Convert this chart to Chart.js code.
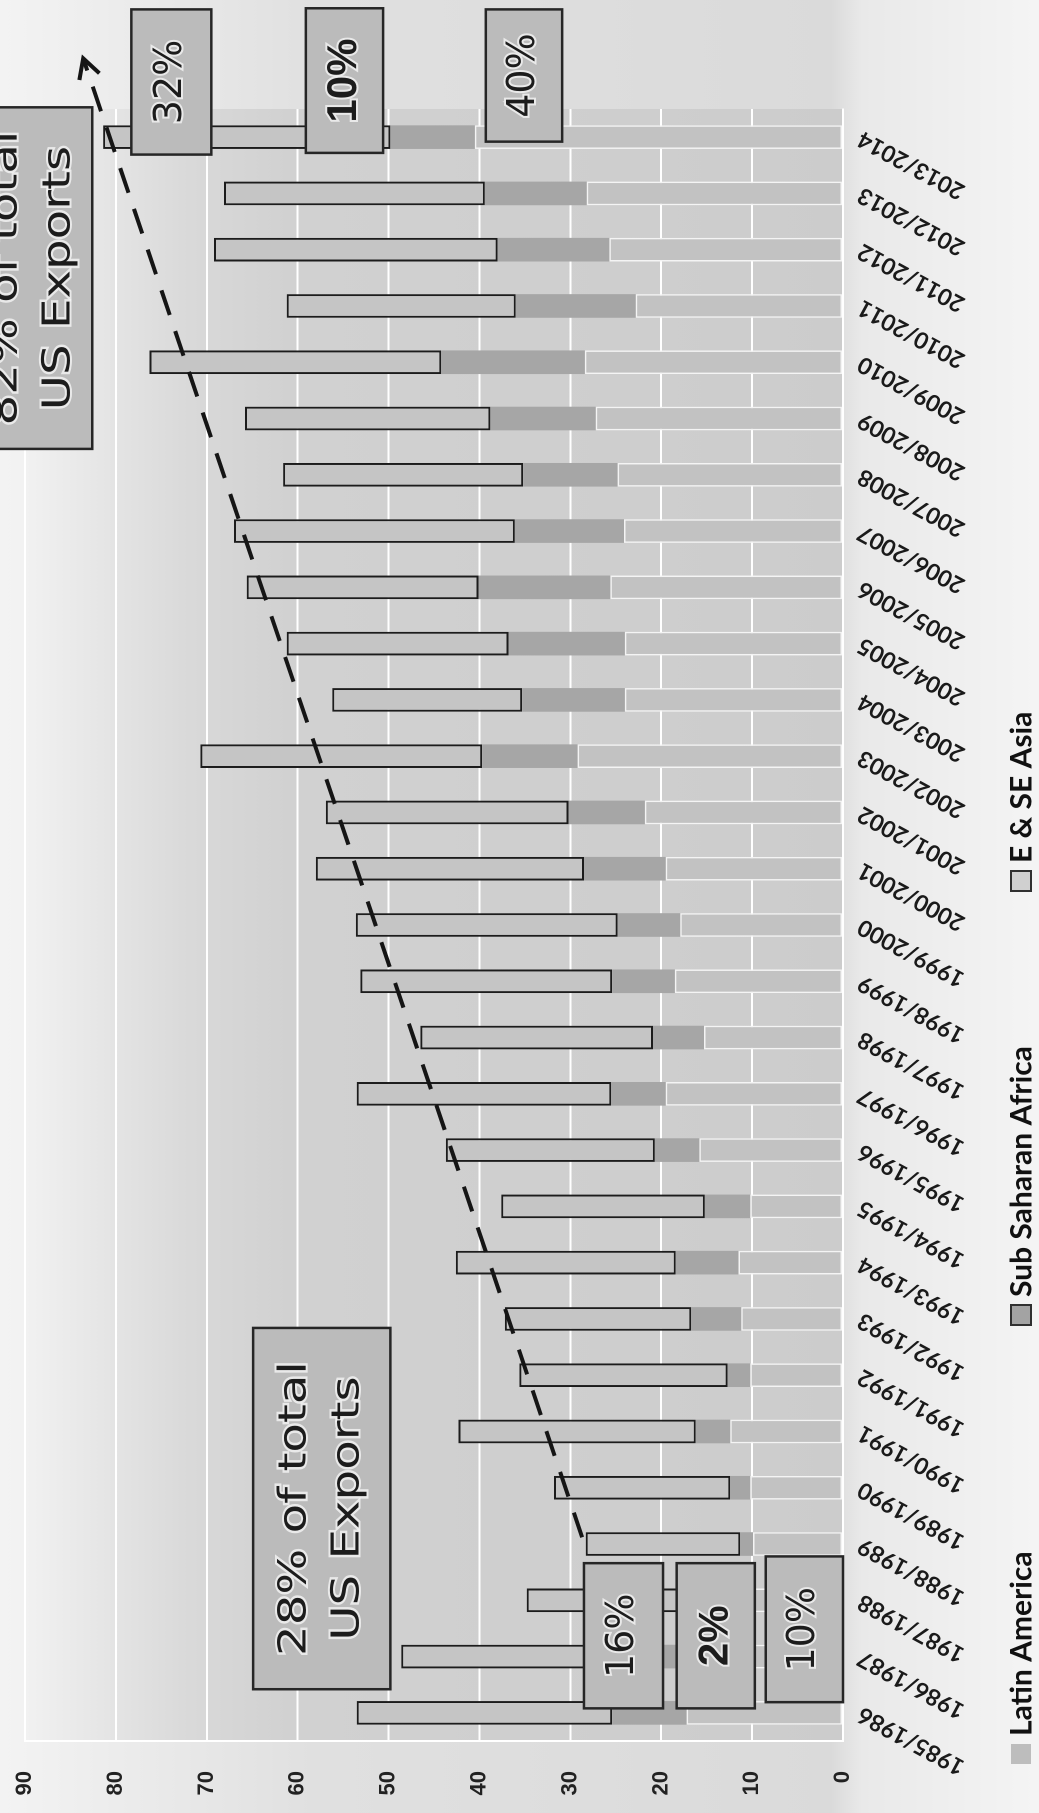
<!DOCTYPE html>
<html>
<head>
<meta charset="utf-8">
<title>Wheat exports by region</title>
<script src="https://cdn.jsdelivr.net/npm/chart.js@4.4.1/dist/chart.umd.min.js"></script>
<style>
  html, body { margin: 0; padding: 0; width: 1039px; height: 1813px; overflow: hidden; background: #ececec; }
  /* the whole chart is printed turned a quarter turn to the left */
  #wrap { position: absolute; left: 0; top: 0; width: 1813px; height: 1039px;
          transform-origin: 0 0; transform: translateY(1813px) rotate(-90deg); }
  #exports-chart { display: block; width: 1813px; height: 1039px; }
</style>
</head>
<body>
<div id="wrap"><canvas id="exports-chart" width="1813" height="1039"></canvas></div>
<script>
const seasons = [
  '1985/1986', '1986/1987', '1987/1988', '1988/1989', '1989/1990', '1990/1991',
  '1991/1992', '1992/1993', '1993/1994', '1994/1995', '1995/1996', '1996/1997',
  '1997/1998', '1998/1999', '1999/2000', '2000/2001', '2001/2002', '2002/2003',
  '2003/2004', '2004/2005', '2005/2006', '2006/2007', '2007/2008', '2008/2009',
  '2009/2010', '2010/2011', '2011/2012', '2012/2013', '2013/2014'
];
const latinAmerica = [17.2, 13.0, 10.0, 9.9, 10.2, 12.4, 10.2, 11.2, 11.5, 10.2, 15.8, 19.5, 15.3, 18.5, 17.9,
  19.5, 21.8, 29.2, 24.0, 24.0, 25.6, 24.1, 24.8, 27.2, 28.4, 22.8, 25.7, 28.2, 40.5];
const subSaharanAfrica = [8.2, 8.0, 4.0, 1.4, 2.2, 3.8, 2.5, 5.5, 6.9, 5.0, 4.9, 6.0, 5.6, 6.9, 6.9,
  9.0, 8.4, 10.5, 11.3, 12.8, 14.5, 12.0, 10.4, 11.6, 15.8, 13.2, 12.3, 11.2, 9.3];
const eastSEAsia = [28.1, 27.6, 20.8, 17.0, 19.4, 26.1, 22.9, 20.5, 24.2, 22.4, 23.0, 28.0, 25.6, 27.7, 28.8,
  29.5, 26.7, 31.0, 20.9, 24.4, 25.5, 30.9, 26.4, 27.0, 32.1, 25.2, 31.2, 28.7, 31.6];
const valueTicks = [0, 10, 20, 30, 40, 50, 60, 70, 80, 90];
// dashed trend arrow, in (season index, value)
const trendStart = { x: 3.12, y: 28.7 };
const trendEnd = { x: 29.4, y: 83.6 };
const legendNames = ['Latin America', 'Sub Saharan Africa', 'E & SE Asia'];

// call-out boxes, placed in season index / value units
const notes = [
  { from: 22.46, to: 28.53, top: 100, bottom: 82.6, lines: [['82% of total', 92.0], ['US Exports', 86.2]], font: '38px "DejaVu Sans"', stretch: 1.27 },
  { from: 0.42, to: 6.84, top: 64.9, bottom: 49.8, lines: [['28% of total', 60.2], ['US Exports', 54.4]], font: '38px "DejaVu Sans"', stretch: 1.27 },
  { from: 0.08, to: 2.66, top: 28.5, bottom: 19.8, lines: [['16%', 24.2]], font: '38px "DejaVu Sans"', stretch: 1 },
  { from: 0.08, to: 2.66, top: 18.3, bottom: 9.7, lines: [['2%', 14.0]], font: 'bold 42px "Liberation Sans"', stretch: 1 },
  { from: 0.19, to: 2.78, top: 8.5, bottom: 0, lines: [['10%', 4.25]], font: '38px "DejaVu Sans"', stretch: 1 },
  { from: 27.69, to: 30.27, top: 78.3, bottom: 69.5, lines: [['32%', 73.9]], font: '38px "DejaVu Sans"', stretch: 1 },
  { from: 27.72, to: 30.29, top: 59.1, bottom: 50.6, lines: [['10%', 54.85]], font: 'bold 42px "Liberation Sans"', stretch: 1 },
  { from: 27.92, to: 30.27, top: 39.3, bottom: 30.9, lines: [['40%', 35.1]], font: '38px "DejaVu Sans"', stretch: 1 }
];
const legendX = [49, 488, 922];

Chart.defaults.font.family = 'Lato';
Chart.defaults.color = '#1a1a1a';

// scanned paper look: pale page, grey plot
const paperPlugin = {
  id: 'paper',
  beforeDraw(chart) {
    const { ctx, chartArea: a, width, height } = chart;
    ctx.save();
    const page = ctx.createLinearGradient(0, 0, 0, height);
    page.addColorStop(0, '#f3f3f3');
    page.addColorStop(0.3, '#e0e0e0');
    page.addColorStop(0.8, '#dadada');
    page.addColorStop(0.83, '#e9e9e9');
    page.addColorStop(1, '#f4f4f4');
    ctx.fillStyle = page;
    ctx.fillRect(0, 0, width, height);
    const plot = ctx.createLinearGradient(0, a.top, 0, a.bottom);
    plot.addColorStop(0, '#f1f1f1');
    plot.addColorStop(0.2, '#d9d9d9');
    plot.addColorStop(0.32, '#d1d1d1');
    plot.addColorStop(1, '#cccccc');
    ctx.fillStyle = plot;
    ctx.fillRect(a.left, a.top, a.right - a.left, a.bottom - a.top);
    ctx.restore();
  }
};

function drawNote(ctx, chart, n) {
  const xs = chart.scales.xt;
  const ys = chart.scales.y;
  const left = xs.getPixelForValue(n.from);
  const right = xs.getPixelForValue(n.to);
  const top = ys.getPixelForValue(n.top);
  const bottom = ys.getPixelForValue(n.bottom);
  ctx.fillStyle = '#bbbbbb';
  ctx.fillRect(left, top, right - left, bottom - top);
  ctx.strokeStyle = '#262626';
  ctx.lineWidth = 2.5;
  ctx.strokeRect(left, top, right - left, bottom - top);
  ctx.font = n.font;
  ctx.textAlign = 'center';
  ctx.textBaseline = 'middle';
  n.lines.forEach(([text, at]) => {
    ctx.save();
    ctx.translate((left + right) / 2, ys.getPixelForValue(at));
    ctx.scale(n.stretch, 1);
    ctx.lineWidth = 4;
    ctx.strokeStyle = 'rgba(245,245,245,0.8)';
    ctx.strokeText(text, 0, 0);
    ctx.fillStyle = '#1c1c1c';
    ctx.fillText(text, 0, 0);
    ctx.restore();
  });
}

const notesPlugin = {
  id: 'notes',
  afterDatasetsDraw(chart) {
    const ctx = chart.ctx;
    ctx.save();
    // arrow head at the end of the trend line
    const pts = chart.getDatasetMeta(3).data;
    const a = pts[0], b = pts[1];
    const ang = Math.atan2(b.y - a.y, b.x - a.x);
    ctx.strokeStyle = '#151515';
    ctx.lineWidth = 4;
    ctx.beginPath();
    ctx.moveTo(b.x - 22 * Math.cos(ang - 0.5), b.y - 22 * Math.sin(ang - 0.5));
    ctx.lineTo(b.x, b.y);
    ctx.lineTo(b.x - 22 * Math.cos(ang + 0.5), b.y - 22 * Math.sin(ang + 0.5));
    ctx.stroke();
    notes.forEach(n => drawNote(ctx, chart, n));
    ctx.restore();
  }
};

const legendPlugin = {
  id: 'sideLegend',
  afterDraw(chart) {
    const ctx = chart.ctx;
    const y = 1021;
    const boxes = [['#bdbdbd', null], ['#a3a3a3', '#303030'], ['#d0d0d0', '#303030']];
    ctx.save();
    ctx.font = 'bold 30px Lato';
    ctx.textBaseline = 'middle';
    ctx.textAlign = 'left';
    legendNames.forEach((name, i) => {
      const x = legendX[i];
      ctx.fillStyle = boxes[i][0];
      ctx.fillRect(x, y - 10, 20, 20);
      if (boxes[i][1]) {
        ctx.strokeStyle = boxes[i][1];
        ctx.lineWidth = 2;
        ctx.strokeRect(x, y - 10, 20, 20);
      }
      ctx.fillStyle = '#111';
      ctx.fillText(name, x + 28, y + 1);
    });
    ctx.restore();
  }
};

const barStyle = { barPercentage: 0.42, categoryPercentage: 1, grouped: false };

const chart = new Chart(document.getElementById('exports-chart'), {
  type: 'bar',
  data: {
    labels: seasons,
    datasets: [
      { label: legendNames[0], data: latinAmerica, backgroundColor: '#c2c2c2', borderColor: '#f4f4f4', borderWidth: 1.5, borderSkipped: false, ...barStyle },
      { label: legendNames[1], data: subSaharanAfrica, backgroundColor: '#a6a6a6', borderWidth: 0, ...barStyle },
      { label: legendNames[2], data: eastSEAsia, backgroundColor: '#c5c5c5', borderColor: '#1c1c1c', borderWidth: 2, borderSkipped: false, ...barStyle },
      { type: 'line', label: 'trend', data: [trendStart, trendEnd], xAxisID: 'xt', stack: 'trend', order: -1,
        borderColor: '#151515', borderWidth: 4, borderDash: [26, 17], pointRadius: 0, clip: false, fill: false }
    ]
  },
  options: {
    responsive: false,
    animation: false,
    devicePixelRatio: 2,
    layout: { padding: { top: 25, right: 109, left: 0, bottom: 0 } },
    plugins: { legend: { display: false }, tooltip: { enabled: false } },
    scales: {
      x: {
        stacked: true,
        grid: { display: false, drawTicks: false },
        border: { display: true, color: '#ffffff', width: 2 },
        ticks: { autoSkip: false, minRotation: 61.5, maxRotation: 61.5, padding: 10,
                 font: { size: 23, weight: 'bold' }, color: '#1a1a1a' },
        afterFit: s => { s.height = 196; }
      },
      xt: { type: 'linear', display: false, offset: false, grid: { offset: false },
            min: -0.5, max: seasons.length - 0.5 },
      y: {
        stacked: true,
        min: valueTicks[0],
        max: valueTicks[valueTicks.length - 1],
        grid: { color: '#ffffff', lineWidth: 2, drawTicks: true, tickLength: 26, tickColor: 'rgba(0,0,0,0)' },
        border: { display: true, color: '#ffffff', width: 2 },
        afterBuildTicks: s => { s.ticks = valueTicks.map(v => ({ value: v })); },
        ticks: { padding: 4, font: { family: 'Liberation Sans', size: 22, weight: 'bold' }, color: '#222' },
        afterFit: s => { s.width = 72; }
      }
    }
  },
  plugins: [paperPlugin, notesPlugin, legendPlugin]
});
</script>
</body>
</html>
